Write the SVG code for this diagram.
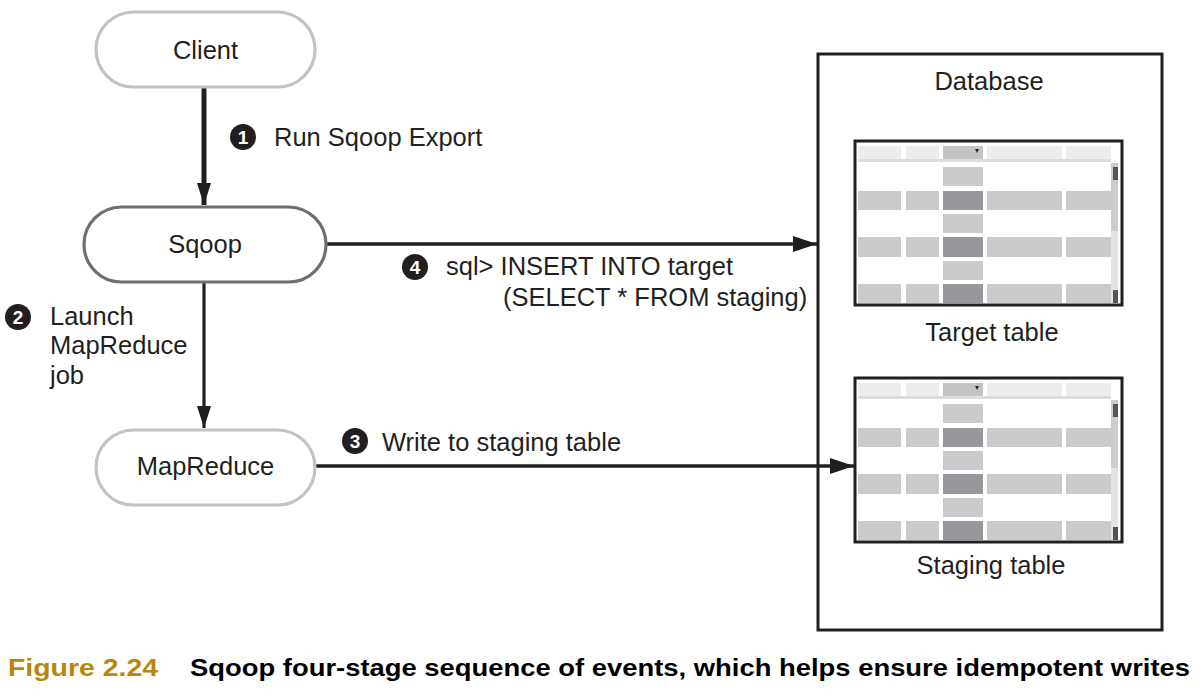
<svg xmlns="http://www.w3.org/2000/svg" xmlns:xlink="http://www.w3.org/1999/xlink" width="1200" height="699" viewBox="0 0 1200 699">
<style>
.t{font-family:"Liberation Sans",Arial,sans-serif;font-size:25.5px;fill:#231f20}
.num{font-family:"Liberation Sans",Arial,sans-serif;font-size:19px;font-weight:bold;fill:#fff}
.cap{font-family:"Liberation Sans Narrow","Liberation Sans",Arial,sans-serif;font-size:24px;font-weight:bold}
.node{fill:#fff;stroke-width:3.2}
.conn{stroke:#231f20;fill:none}
.hd{fill:#eceeed}
.hdk{fill:#c4c4c4}
.lc{fill:#cacbcc}
.dc{fill:#97989b}
</style>
<defs>
<marker id="ah" viewBox="0 0 24 16" refX="24" refY="8" markerWidth="24" markerHeight="16" markerUnits="userSpaceOnUse" orient="auto">
<path d="M0,0 L24,8 L0,16 Z" fill="#231f20"/>
</marker>
<marker id="ahs" viewBox="0 0 22 14" refX="22" refY="7" markerWidth="22" markerHeight="14" markerUnits="userSpaceOnUse" orient="auto">
<path d="M0,0 L22,7 L0,14 Z" fill="#231f20"/>
</marker>
<g id="tbl">
<rect x="0" y="0" width="267" height="164" fill="#fff"/>
<rect class="hd" x="3" y="5" width="43" height="16"/>
<rect class="hd" x="51" y="5" width="33" height="16"/>
<rect class="hdk" x="88" y="5" width="40" height="16"/>
<rect class="hd" x="132" y="5" width="75" height="16"/>
<rect class="hd" x="211" y="5" width="45" height="16"/>
<rect fill="#dcdddc" x="3" y="18" width="253" height="3"/>
<path d="M120,8 L124,8 L122,12 Z" fill="#231f20"/>
<rect class="lc" x="88" y="26" width="40" height="19"/>
<rect class="lc" x="88" y="73" width="40" height="19"/>
<rect class="lc" x="88" y="120" width="40" height="19"/>
<g>
<rect class="lc" x="3" y="50" width="43" height="19"/><rect class="lc" x="51" y="50" width="33" height="19"/><rect class="dc" x="88" y="50" width="40" height="19"/><rect class="lc" x="132" y="50" width="75" height="19"/><rect class="lc" x="211" y="50" width="45" height="19"/>
<rect class="lc" x="3" y="96" width="43" height="20"/><rect class="lc" x="51" y="96" width="33" height="20"/><rect class="dc" x="88" y="96" width="40" height="20"/><rect class="lc" x="132" y="96" width="75" height="20"/><rect class="lc" x="211" y="96" width="45" height="20"/>
<rect class="lc" x="3" y="143" width="43" height="19"/><rect class="lc" x="51" y="143" width="33" height="19"/><rect class="dc" x="88" y="143" width="40" height="19"/><rect class="lc" x="132" y="143" width="75" height="19"/><rect class="lc" x="211" y="143" width="45" height="19"/>
</g>
<rect x="256" y="22" width="7" height="140" fill="#e4e4e4"/>
<rect x="256" y="22" width="7" height="68" fill="#cdcdcd"/>
<rect x="258" y="26" width="5" height="13" fill="#555"/>
<rect x="258" y="149" width="5" height="13" fill="#555"/>
<rect x="0" y="0" width="267" height="164" fill="none" stroke="#231f20" stroke-width="3"/>
</g>
</defs>

<g id="connectors">
<line class="conn" x1="204" y1="88" x2="204" y2="205" stroke-width="5" marker-end="url(#ahs)"/>
<line class="conn" x1="204" y1="283" x2="204" y2="428" stroke-width="3.2" marker-end="url(#ahs)"/>
<line class="conn" x1="327" y1="244" x2="817" y2="244" stroke-width="3.5" marker-end="url(#ah)"/>
<line class="conn" x1="316" y1="466" x2="854" y2="466" stroke-width="3.5" marker-end="url(#ah)"/>
</g>

<g id="label1">
<circle cx="243" cy="137" r="13" fill="#231f20"/>
<text class="num" x="243" y="144" text-anchor="middle">1</text>
<text class="t" x="274" y="146">Run Sqoop Export</text>
</g>
<g id="label2">
<circle cx="18" cy="317" r="13" fill="#231f20"/>
<text class="num" x="18" y="324" text-anchor="middle">2</text>
<text class="t" x="50" y="325">Launch</text>
<text class="t" x="50" y="354">MapReduce</text>
<text class="t" x="50" y="384">job</text>
</g>
<g id="label3">
<circle cx="355" cy="441" r="13" fill="#231f20"/>
<text class="num" x="355" y="448" text-anchor="middle">3</text>
<text class="t" x="382" y="451">Write to staging table</text>
</g>
<g id="label4">
<circle cx="415" cy="267" r="13" fill="#231f20"/>
<text class="num" x="415" y="274" text-anchor="middle">4</text>
<text class="t" x="446" y="275">sql&gt; INSERT INTO target</text>
<text class="t" x="503" y="306">(SELECT * FROM staging)</text>
</g>

<g id="client">
<rect class="node" x="96" y="12" width="219" height="75" rx="37.5" stroke="#c2c3c4"/>
<text class="t" x="205.5" y="59" text-anchor="middle">Client</text>
</g>
<g id="sqoop">
<rect class="node" x="84" y="207" width="242" height="75" rx="37.5" stroke="#6f6f70"/>
<text class="t" x="205" y="253" text-anchor="middle">Sqoop</text>
</g>
<g id="mapreduce">
<rect class="node" x="96" y="430" width="219" height="75" rx="37.5" stroke="#c2c3c4"/>
<text class="t" x="205.5" y="475" text-anchor="middle">MapReduce</text>
</g>

<g id="database">
<rect x="818" y="54" width="344" height="576" fill="none" stroke="#231f20" stroke-width="3"/>
<text class="t" x="989" y="90" text-anchor="middle">Database</text>
</g>
<g id="target-table">
<use xlink:href="#tbl" transform="translate(855,141)"/>
<text class="t" x="992" y="341" text-anchor="middle">Target table</text>
</g>
<g id="staging-table">
<use xlink:href="#tbl" transform="translate(855,378)"/>
<text class="t" x="991" y="574" text-anchor="middle">Staging table</text>
</g>

<g id="caption">
<text class="cap" x="8" y="676" fill="#b8860b" textLength="150" lengthAdjust="spacingAndGlyphs">Figure 2.24</text>
<text class="cap" x="190" y="676" fill="#000" textLength="1000" lengthAdjust="spacingAndGlyphs">Sqoop four-stage sequence of events, which helps ensure idempotent writes</text>
</g>
</svg>
